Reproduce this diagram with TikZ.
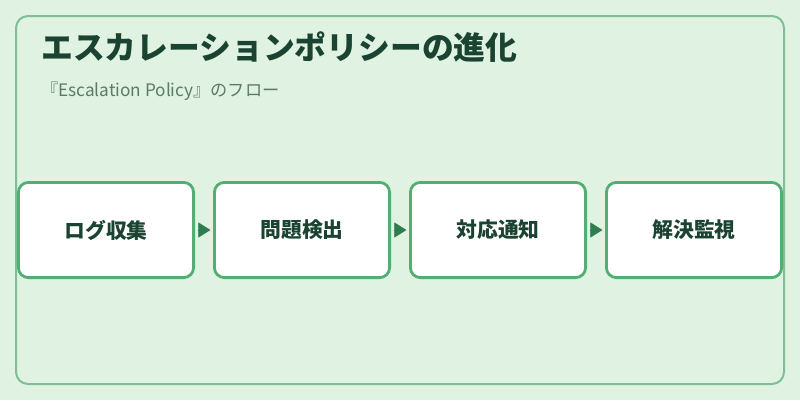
\documentclass[tikz,border=0pt]{standalone}
\usepackage{fontspec}
\setmainfont{Noto Sans CJK JP}
\usetikzlibrary{positioning,arrows.meta}
\definecolor{bgGreen}{HTML}{E0F2E1}
\definecolor{frameGreen}{HTML}{7FBF95}
\definecolor{boxGreen}{HTML}{52AE72}
\definecolor{arrowGreen}{HTML}{2E7D4F}
\definecolor{titleGreen}{HTML}{1B4332}
\definecolor{subGreen}{HTML}{5B7B66}
\begin{document}
\begin{tikzpicture}[x=1pt,y=-1pt,
    stage/.style={draw=boxGreen, line width=2.8pt, fill=white, rounded corners=10pt,
      minimum width=175.2pt, minimum height=95.2pt, inner sep=0pt,
      font=\bfseries\fontsize{20.8}{24}\selectfont, text=titleGreen},
    flow/.style={-{Triangle[length=12pt,width=15pt]}, draw=arrowGreen, fill=arrowGreen,
      shorten <=2.6pt, shorten >=2.6pt}]
  \fill[bgGreen] (0,0) rectangle (800,400);
  \draw[frameGreen, line width=2pt, rounded corners=12pt] (16,16) rectangle (784,384);

  \node[anchor=base west, inner sep=0pt, text=titleGreen,
    font=\bfseries\fontsize{31.8}{36}\selectfont] (title) at (41,59) {エスカレーションポリシーの進化};
  \node[anchor=base west, inner sep=0pt, text=subGreen,
    font=\fontsize{17.2}{20}\selectfont] (sub) at (41,96) {『Escalation Policy』のフロー};

  % four stages of the flow
  \node[stage] (collect) at (106,230) {ログ収集};
  \node[stage, right=18pt of collect] (detect) {問題検出};
  \node[stage, right=18pt of detect] (notify) {対応通知};
  \node[stage, right=18pt of notify] (watch) {解決監視};
  \foreach \a/\b in {collect/detect,detect/notify,notify/watch}
    \draw[flow] (\a) -- (\b);
\end{tikzpicture}
\end{document}
